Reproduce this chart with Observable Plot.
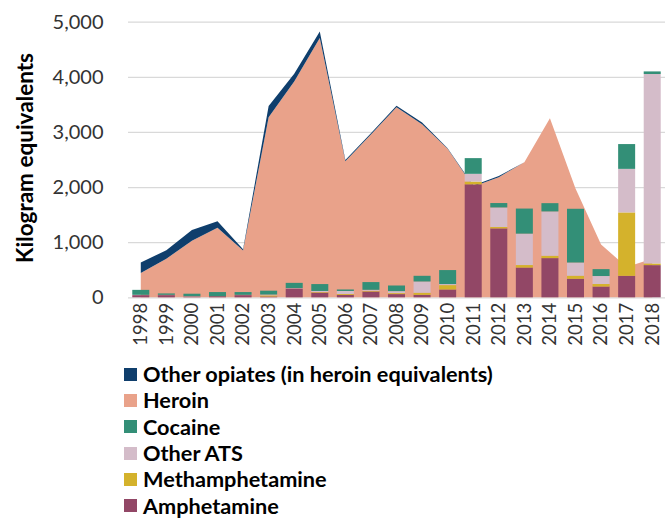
<!DOCTYPE html>
<html>
<head>
<meta charset="utf-8">
<script src="https://cdn.jsdelivr.net/npm/d3@7"></script>
<script src="https://cdn.jsdelivr.net/npm/@observablehq/plot@0.6"></script>
<style>
  html, body { margin: 0; padding: 0; background: #fff; }
  #chart { width: 668px; }
  .legend { padding: 6px 0 0 124px; font-family: "Lato", sans-serif; font-weight: bold; font-size: 21.7px; color: #000; }
  .legend .row { display: flex; align-items: center; height: 26.3px; }
  .legend .sw { width: 13px; height: 13px; margin-right: 6px; flex: none; }
</style>
</head>
<body>
<div id="chart"></div>
<script>
const years = [1998,1999,2000,2001,2002,2003,2004,2005,2006,2007,2008,2009,2010,2011,2012,2013,2014,2015,2016,2017,2018];
const heroin = [440,700,1025,1260,850,3265,3915,4703,2470,2955,3450,3140,2695,2010,2180,2450,3250,1976,958,550,700];
const otherOpiates = [190,155,195,120,20,205,140,120,20,20,25,30,10,20,20,0,0,0,0,0,0];
const amphetamine = [40,40,15,20,40,15,160,85,45,105,58,45,142,2050,1250,540,711,336,196,390,584];
const methamphetamine = [0,0,0,0,0,20,0,10,15,13,18,37,79,50,25,45,42,55,45,1150,30];
const otherATS = [5,5,5,0,5,15,7,20,55,18,36,205,19,140,355,570,805,240,145,790,3437];
const cocaine = [90,25,45,75,50,70,95,125,27,140,102,103,254,285,80,455,150,975,125,450,47];
const yTicks = [0,1000,2000,3000,4000,5000];

const colors = {
  "Other opiates (in heroin equivalents)": "#0f3e6c",
  "Heroin": "#e9a28a",
  "Cocaine": "#338f77",
  "Other ATS": "#d4bcc9",
  "Methamphetamine": "#d4b22c",
  "Amphetamine": "#924766"
};

const areaRows = years.map((y, i) => ({year: y, heroin: heroin[i], total: heroin[i] + otherOpiates[i]}));

const barSeries = [
  ["Amphetamine", amphetamine],
  ["Methamphetamine", methamphetamine],
  ["Other ATS", otherATS],
  ["Cocaine", cocaine]
];
const segs = [];
years.forEach((y, i) => {
  let base = 0;
  for (const [name, vals] of barSeries) {
    const v = vals[i];
    segs.push({year: y, name, y1: base, y2: base + v});
    base += v;
  }
});
const half = 0.3325;

const chart = Plot.plot({
  width: 668,
  height: 355,
  marginLeft: 128,
  marginRight: 3,
  marginTop: 21.7,
  marginBottom: 57.7,
  style: {fontFamily: "Lato, sans-serif", background: "#fff", color: "#333"},
  x: {domain: [1997.5, 2018.5]},
  y: {domain: [0, 5000]},
  marks: [
    Plot.ruleY(yTicks, {stroke: "#d9d9d9", strokeWidth: 1.3}),
    Plot.areaY(areaRows, {x: "year", y1: 0, y2: "heroin", fill: colors["Heroin"]}),
    Plot.areaY(areaRows, {x: "year", y1: "heroin", y2: "total", fill: colors["Other opiates (in heroin equivalents)"]}),
    Plot.rect(segs, {x1: d => d.year - half, x2: d => d.year + half, y1: "y1", y2: "y2", fill: d => colors[d.name]}),
    Plot.axisX({ticks: years, tickFormat: d => String(d), tickRotate: -90, tickSize: 0, tickPadding: 5, fontSize: 18.5, label: null}),
    Plot.axisY({ticks: yTicks, tickFormat: d3.format(","), tickSize: 0, tickPadding: 25, fontSize: 20, label: null}),
    Plot.text(["Kilogram equivalents"], {frameAnchor: "left", textAnchor: "middle", rotate: -90, dx: -103, dy: -2, fontWeight: "bold", fontSize: 22.5, fill: "#000"})
  ]
});
document.getElementById("chart").appendChild(chart);

const legendItems = ["Other opiates (in heroin equivalents)", "Heroin", "Cocaine", "Other ATS", "Methamphetamine", "Amphetamine"];
const legend = document.createElement("div");
legend.className = "legend";
for (const name of legendItems) {
  const row = document.createElement("div");
  row.className = "row";
  const sw = document.createElement("span");
  sw.className = "sw";
  sw.style.background = colors[name];
  const t = document.createElement("span");
  t.textContent = name;
  row.appendChild(sw);
  row.appendChild(t);
  legend.appendChild(row);
}
document.body.appendChild(legend);
</script>
</body>
</html>
